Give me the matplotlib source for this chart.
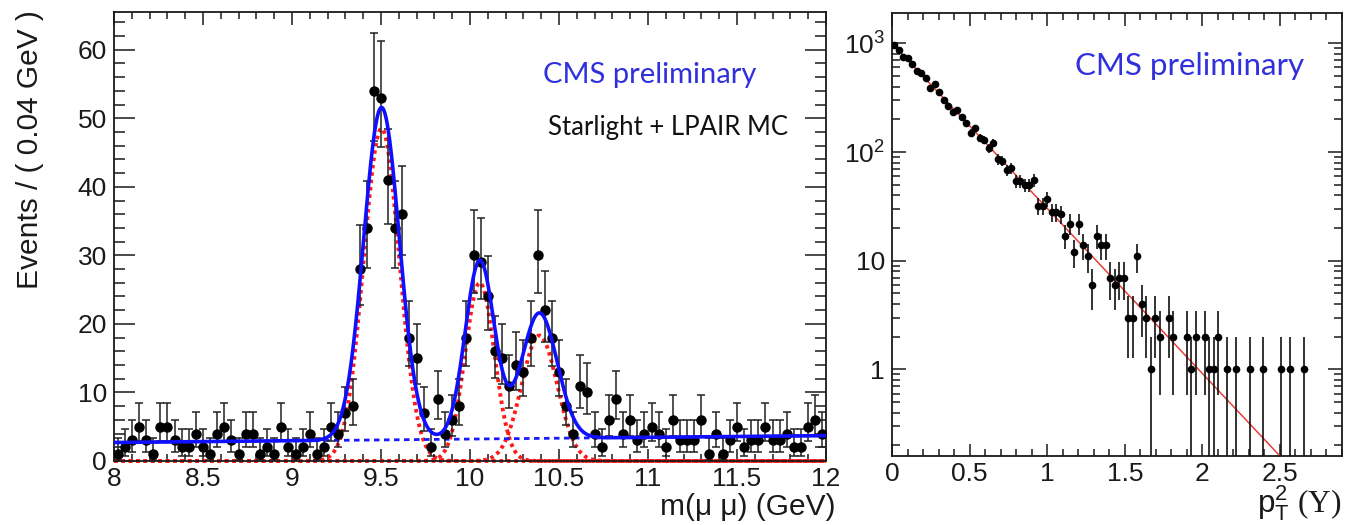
import numpy as np
import matplotlib
matplotlib.use("Agg")
import matplotlib.pyplot as plt
from matplotlib.ticker import MultipleLocator, FixedLocator, FixedFormatter, LogLocator, NullFormatter

# ---------------- data: left panel (dimuon mass) ----------------
mass_lo, mass_hi, n_mass_bins = 8.0, 12.0, 100
mass_counts = [1, 2, 3, 5, 3, 1, 5, 5, 3, 2,
               2, 4, 2, 1, 4, 5, 3, 1, 4, 4,
               1, 2, 1, 5, 2, 1, 2, 4, 1, 2,
               5, 4, 7, 8, 28, 34, 54, 53, 41, 34,
               36, 18, 15, 7, 2, 9, 4, 6, 8, 18,
               30, 29, 24, 16, 15, 11, 14, 13, 18, 30,
               22, 18, 13, 8, 4, 11, 10, 4, 2, 6,
               9, 4, 6, 3, 4, 5, 4, 2, 6, 3,
               3, 3, 6, 1, 4, 1, 3, 5, 2, 3,
               3, 5, 3, 3, 4, 2, 2, 5, 6, 4]
# fit model
bkg_mass = [8.0, 12.0]
bkg_level = [2.7, 3.7]
peak_mean = [9.503, 10.055, 10.39]
peak_sigma = [0.100, 0.082, 0.100]
peak_amp = [48.5, 26.0, 18.3]

# ---------------- data: right panel (pT^2) ----------------
pt2_lo, pt2_hi, n_pt2_bins = 0.0, 2.9, 100
pt2_counts = [965, 868, 754, 727, 641, 561, 530, 477, 385, 420,
              354, 301, 265, 235, 244, 208, 184, 149, 165, 136,
              129, 108, 122, 86, 83, 68, 71, 54, 54, 50,
              50, 55, 32, 32, 37, 28, 28, 27, 17, 22,
              12, 22, 14, 11, 6, 17, 14, 14, 7, 6,
              7, 7, 3, 3, 11, 4, 3, 1, 3, 2,
              0, 3, 2, 0, 0, 2, 1, 2, 0, 2,
              1, 1, 2, 0, 1, 0, 1, 0, 0, 1,
              0, 0, 1, 0, 0, 0, 1, 0, 1, 0,
              0, 1, 0, 0, 0, 0, 0, 0, 0, 0]
pt2_fit_x = [0.0, 2.5]
pt2_fit_y = [1000.0, 0.16]

# ---------------- style ----------------
plt.rcParams["font.family"] = ["Liberation Sans", "DejaVu Sans"]
plt.rcParams["mathtext.fontset"] = "custom"
plt.rcParams["mathtext.rm"] = "Liberation Sans"
plt.rcParams["mathtext.it"] = "Liberation Sans:italic"
plt.rcParams["mathtext.sf"] = "Liberation Serif"

fig = plt.figure(figsize=(13.53, 5.25), dpi=100)
W, H = 1353, 525

def axes_px(x0, y0, x1, y1):
    return fig.add_axes([x0 / W, 1 - y1 / H, (x1 - x0) / W, (y1 - y0) / H])

axL = axes_px(114, 12, 826, 461)
axR = axes_px(892, 13, 1342, 456)

TICK_FS = 19
INK = "#1a1a1a"

# ---------------- left panel ----------------
edges = np.linspace(mass_lo, mass_hi, n_mass_bins + 1)
centers = 0.5 * (edges[:-1] + edges[1:])
n = np.asarray(mass_counts, dtype=float)
lo_lim = n * (1 - 1 / (9 * n) - 1 / (3 * np.sqrt(n))) ** 3
hi_lim = n + 1 + np.sqrt(n + 0.75)
yerr = np.vstack([n - lo_lim, hi_lim - n])

m = np.linspace(mass_lo, mass_hi, 1601)
bkg = np.interp(m, bkg_mass, bkg_level)
gauss = [a * np.exp(-0.5 * ((m - mu) / s) ** 2) for a, mu, s in zip(peak_amp, peak_mean, peak_sigma)]
total = bkg + np.sum(gauss, axis=0)

for g in gauss:
    axL.plot(m, g, color="#ff1a1a", lw=2.8, ls=(0, (0.9, 1.0)), zorder=2, clip_on=False)
axL.plot(m, bkg, color="#1a1aff", lw=2.0, ls=(0, (2.0, 1.6)), zorder=3)
axL.errorbar(centers, n, yerr=yerr, fmt="o", color="black", ms=6.5, ecolor="#222222",
             elinewidth=1.1, capsize=2.6, capthick=1.1, zorder=4)
axL.plot(m, total, color="#1010ff", lw=2.6, zorder=5)

axL.set_xlim(mass_lo, mass_hi)
axL.set_ylim(0, 65.5)
axL.xaxis.set_major_locator(FixedLocator([8, 8.5, 9, 9.5, 10, 10.5, 11, 11.5, 12]))
axL.xaxis.set_major_formatter(FixedFormatter(["8", "8.5", "9", "9.5", "10", "10.5", "11", "11.5", "12"]))
axL.xaxis.set_minor_locator(MultipleLocator(0.1))
axL.yaxis.set_major_locator(MultipleLocator(10))
axL.yaxis.set_minor_locator(MultipleLocator(2))
axL.tick_params(axis="both", which="both", direction="in", top=True, right=True,
                labelsize=TICK_FS, colors=INK, width=1.1)
axL.tick_params(axis="y", which="major", length=15, pad=5)
axL.tick_params(axis="y", which="minor", length=8)
axL.tick_params(axis="x", which="major", length=9, pad=4)
axL.tick_params(axis="x", which="minor", length=5)
for sp in axL.spines.values():
    sp.set_linewidth(1.3)
    sp.set_color(INK)

axL.set_ylabel("Events / ( 0.04 GeV )", fontsize=21.5, color=INK,
               ha="right", va="center", rotation_mode="anchor")
axL.yaxis.set_label_coords(-0.118, 1.004)
axL.set_xlabel("m(μ μ) (GeV)", fontsize=21.5, color=INK, ha="right", va="top")
axL.xaxis.set_label_coords(1.014, -0.072)

axL.text(0.753, 0.86, "CMS preliminary", transform=axL.transAxes, ha="center", va="center",
         fontsize=21, color="#3030dd", family=["Lato", "DejaVu Sans"])
axL.text(0.778, 0.742, "Starlight + LPAIR MC", transform=axL.transAxes, ha="center", va="center",
         fontsize=18.5, color="#111111", family=["Lato", "DejaVu Sans"])

# ---------------- right panel ----------------
pedges = np.linspace(pt2_lo, pt2_hi, n_pt2_bins + 1)
pcent = 0.5 * (pedges[:-1] + pedges[1:])
pn = np.asarray(pt2_counts, dtype=float)
sel = pn > 0
perr_lo = np.minimum(np.sqrt(pn[sel]), pn[sel] - 1e-3)
perr_hi = np.sqrt(pn[sel])
axR.plot(pt2_fit_x, pt2_fit_y, color="#e8403a", lw=1.1, zorder=2)
axR.errorbar(pcent[sel], pn[sel], yerr=np.vstack([perr_lo, perr_hi]), fmt="o", color="black",
             ms=4.5, ecolor="#111111", elinewidth=1.2, capsize=0, zorder=3)

axR.set_yscale("log")
axR.set_xlim(pt2_lo, pt2_hi)
axR.set_ylim(0.16, 1900)
axR.xaxis.set_major_locator(FixedLocator([0, 0.5, 1, 1.5, 2, 2.5]))
axR.xaxis.set_major_formatter(FixedFormatter(["0", "0.5", "1", "1.5", "2", "2.5"]))
axR.xaxis.set_minor_locator(MultipleLocator(0.1))
axR.yaxis.set_major_locator(FixedLocator([1, 10, 100, 1000]))
axR.yaxis.set_major_formatter(FixedFormatter(["1", "10", r"$\mathregular{10^{2}}$", r"$\mathregular{10^{3}}$"]))
axR.yaxis.set_minor_locator(LogLocator(base=10, subs=np.arange(2, 10), numticks=20))
axR.yaxis.set_minor_formatter(NullFormatter())
axR.tick_params(axis="both", which="both", direction="in", top=True, right=True,
                labelsize=TICK_FS, colors=INK, width=1.1)
axR.tick_params(axis="y", which="major", length=10, pad=5)
axR.tick_params(axis="y", which="minor", length=6)
axR.tick_params(axis="x", which="major", length=9, pad=4)
axR.tick_params(axis="x", which="minor", length=5)
for sp in axR.spines.values():
    sp.set_linewidth(1.3)
    sp.set_color(INK)

axR.set_xlabel(r"$\mathrm{p}_{\mathrm{T}}^{2}\ \mathsf{(\Upsilon)}$", fontsize=22.5, color=INK,
               ha="right", va="top")
axR.xaxis.set_label_coords(1.0, -0.062)
axR.text(0.662, 0.881, "CMS preliminary", transform=axR.transAxes, ha="center", va="center",
         fontsize=22.5, color="#3030dd", family=["Lato", "DejaVu Sans"])

fig.savefig("out.png", dpi=100)
